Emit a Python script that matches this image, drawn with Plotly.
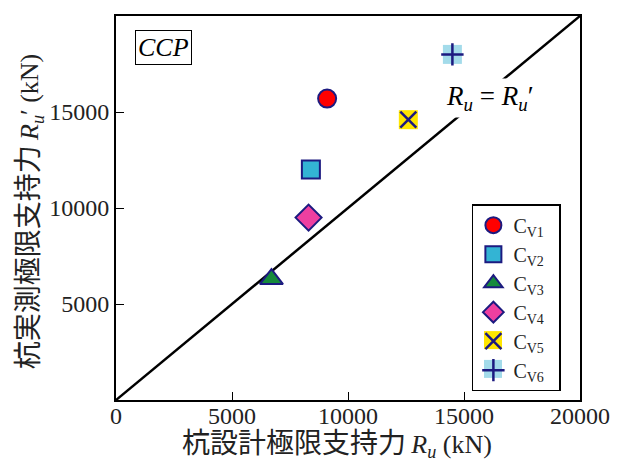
import plotly.graph_objects as go

names = ["C<sub>V1</sub>", "C<sub>V2</sub>", "C<sub>V3</sub>", "C<sub>V4</sub>", "C<sub>V5</sub>", "C<sub>V6</sub>"]
design_ru = [9100, 8400, 6700, 8300, 12600, 14500]
measured_ru = [15700, 12000, 6300, 9500, 14600, 18000]
symbols = ["circle", "square", "triangle-up", "diamond", "x-thin", "cross-thin"]
fills = ["#ff0000", "#33b4d4", "#168a3c", "#ee3fa0", "#ffe600", "#a3dbea"]
line_x = [0, 20000]
line_y = [0, 20000]
x_tick_vals = [0, 5000, 10000, 15000, 20000]
x_tick_text = ["0", "5000", "10000", "15000", "20000"]
y_tick_vals = [5000, 10000, 15000, 20000]
y_tick_text = ["5000", "10000", "15000", "20000"]

NAVY = "#1c1a80"
SERIF = "Liberation Serif, Times New Roman, Noto Sans CJK JP, serif"

fig = go.Figure()
fig.add_trace(go.Scatter(x=line_x, y=line_y, mode="lines",
                         line=dict(color="black", width=2.5), showlegend=False, hoverinfo="skip"))

for i, n in enumerate(names):
    sym = symbols[i]
    label = n + "&nbsp;&nbsp;"
    if sym in ("x-thin", "cross-thin"):
        fig.add_trace(go.Scatter(x=[design_ru[i]], y=[measured_ru[i]], mode="markers",
                                 marker=dict(symbol="square", size=19, color=fills[i],
                                             line=dict(width=0)),
                                 showlegend=False, hoverinfo="skip"))
        fig.add_trace(go.Scatter(x=[design_ru[i]], y=[measured_ru[i]], mode="markers", name=label,
                                 marker=dict(symbol=sym, size=16, color=NAVY,
                                             line=dict(width=2.5, color=NAVY))))
    else:
        size = {"circle": 18, "square": 18, "triangle-up": 20, "diamond": 20}[sym]
        fig.add_trace(go.Scatter(x=[design_ru[i]], y=[measured_ru[i]], mode="markers", name=label,
                                 marker=dict(symbol=sym, size=size, color=fills[i],
                                             line=dict(width=2, color=NAVY))))

# Legend-symbol backgrounds for the crossed squares (legend is transparent)
legend_bg = [(0.8125, 0.156, fills[4]), (0.8125, 0.081, fills[5])]
for (lx, ly, c) in legend_bg:
    fig.add_shape(type="rect", xref="paper", yref="paper", xsizemode="pixel", ysizemode="pixel",
                  xanchor=lx, yanchor=ly, x0=-9, x1=9, y0=-9, y1=9,
                  fillcolor=c, line=dict(width=0), layer="above")

fig.add_annotation(x=0.705, y=0.786, xref="paper", yref="paper", xanchor="left", yanchor="middle",
                   text="<i>R<sub>u</sub></i> = <i>R<sub>u</sub></i>′",
                   showarrow=False, bgcolor="white", borderpad=2,
                   font=dict(size=27, color="black", family=SERIF))
fig.add_annotation(x=0.102, y=0.918, xref="paper", yref="paper", xanchor="center", yanchor="middle",
                   text="<i>CCP</i>", showarrow=False, bgcolor="white",
                   bordercolor="black", borderwidth=1, borderpad=2,
                   font=dict(size=26, color="black", family=SERIF))

# Axis titles
fig.add_annotation(x=0.476, y=-0.116, xref="paper", yref="paper", xanchor="center", yanchor="middle",
                   text="<span style='font-size:28px'>杭設計極限支持力</span>&#8201;<i>R<sub>u</sub></i> (kN)",
                   showarrow=False, font=dict(size=26, color="#222", family=SERIF))
fig.add_annotation(x=-0.185, y=0.492, xref="paper", yref="paper", xanchor="center", yanchor="middle",
                   textangle=-90,
                   text="<span style='font-size:28px'>杭実測極限支持力</span>&#8201;<i>R<sub>u</sub></i>′ (kN)",
                   showarrow=False, font=dict(size=26, color="#222", family=SERIF))

axis_common = dict(range=[0, 20000], ticks="inside", ticklen=8,
                   tickwidth=1, tickcolor="black", showgrid=False, zeroline=False,
                   showline=True, linecolor="black", linewidth=2, mirror=True,
                   automargin=False,
                   tickfont=dict(size=24, family=SERIF, color="#222"))

fig.update_layout(
    width=614, height=460,
    margin=dict(l=108, r=42, t=8, b=68),
    paper_bgcolor="white", plot_bgcolor="white",
    xaxis=dict(**axis_common, tickvals=x_tick_vals, ticktext=x_tick_text, ticklabelstandoff=-7),
    yaxis=dict(**axis_common, tickvals=y_tick_vals, ticktext=y_tick_text),
    legend=dict(x=0.767, y=0.51, xanchor="left", yanchor="top",
                bgcolor="rgba(0,0,0,0)", bordercolor="black", borderwidth=1.5,
                font=dict(size=20, family=SERIF, color="#222")),
    showlegend=True,
)

fig.write_html("out.html")
